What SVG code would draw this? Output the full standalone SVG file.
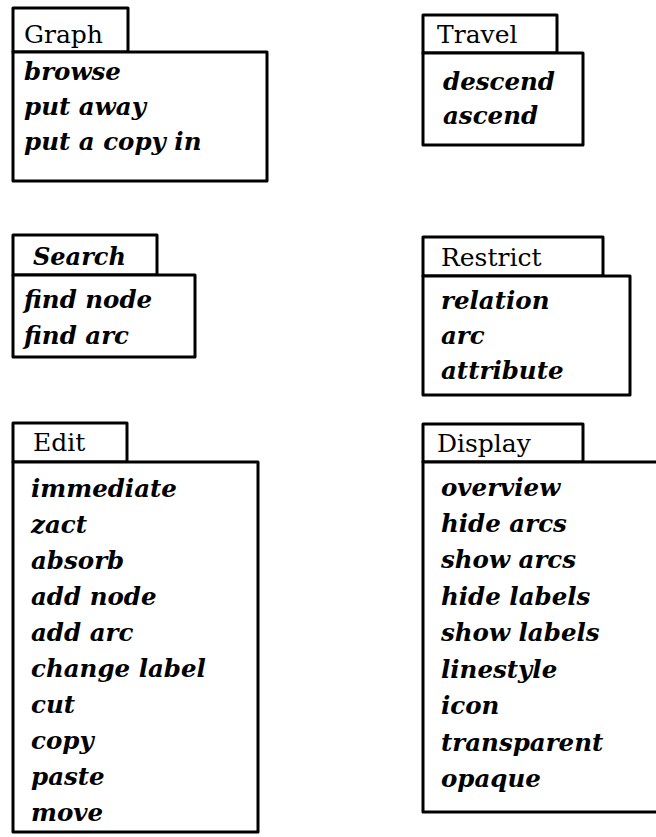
<svg xmlns="http://www.w3.org/2000/svg" width="656" height="837" viewBox="0 0 656 837">
<style>
.b{fill:#fff;stroke:#000;stroke-width:3;stroke-linejoin:round}
.t{font-family:"DejaVu Serif","Liberation Serif",serif;font-size:25px;fill:#000}
.ti{font-family:"DejaVu Serif","Liberation Serif",serif;font-size:24px;font-style:italic;font-weight:bold;fill:#000}
.i{font-family:"DejaVu Serif","Liberation Serif",serif;font-size:24.5px;font-style:italic;font-weight:bold;fill:#000}
</style>
<rect width="656" height="837" fill="#fff"/>
<g id="graph">
<rect class="b" x="13" y="8" width="115" height="44"/>
<rect class="b" x="13" y="52" width="254" height="129"/>
<text class="t" x="24" y="43">Graph</text>
<text class="i" x="24" y="80">browse</text>
<text class="i" x="24" y="115">put away</text>
<text class="i" x="24" y="150">put a copy in</text>
</g>
<g id="travel">
<rect class="b" x="423" y="15" width="134" height="38"/>
<rect class="b" x="423" y="53" width="160" height="92"/>
<text class="t" x="437" y="43">Travel</text>
<text class="i" x="443" y="90">descend</text>
<text class="i" x="443" y="124">ascend</text>
</g>
<g id="search">
<rect class="b" x="13" y="235" width="144" height="40"/>
<rect class="b" x="13" y="275" width="182" height="82"/>
<text class="ti" x="33" y="265">Search</text>
<text class="i" x="24" y="308">find node</text>
<text class="i" x="24" y="344">find arc</text>
</g>
<g id="restrict">
<rect class="b" x="423" y="237" width="180" height="39"/>
<rect class="b" x="423" y="276" width="207" height="119"/>
<text class="t" x="441" y="266">Restrict</text>
<text class="i" x="441" y="309">relation</text>
<text class="i" x="441" y="344">arc</text>
<text class="i" x="441" y="379">attribute</text>
</g>
<g id="edit">
<rect class="b" x="13" y="423" width="114" height="39"/>
<rect class="b" x="13" y="462" width="245" height="370"/>
<text class="t" x="33" y="451">Edit</text>
<text class="i" x="31" y="497">immediate</text>
<text class="i" x="31" y="533">zact</text>
<text class="i" x="31" y="569">absorb</text>
<text class="i" x="31" y="605">add node</text>
<text class="i" x="31" y="641">add arc</text>
<text class="i" x="31" y="677">change label</text>
<text class="i" x="31" y="713">cut</text>
<text class="i" x="31" y="749">copy</text>
<text class="i" x="31" y="785">paste</text>
<text class="i" x="31" y="821">move</text>
</g>
<g id="display">
<rect class="b" x="423" y="424" width="160" height="38"/>
<rect class="b" x="423" y="462" width="240" height="350"/>
<text class="t" x="437" y="452">Display</text>
<text class="i" x="441" y="496">overview</text>
<text class="i" x="441" y="532">hide arcs</text>
<text class="i" x="441" y="568">show arcs</text>
<text class="i" x="441" y="605">hide labels</text>
<text class="i" x="441" y="641">show labels</text>
<text class="i" x="441" y="678">linestyle</text>
<text class="i" x="441" y="714">icon</text>
<text class="i" x="441" y="751">transparent</text>
<text class="i" x="441" y="787">opaque</text>
</g>
<g id="connectors"/>
</svg>
